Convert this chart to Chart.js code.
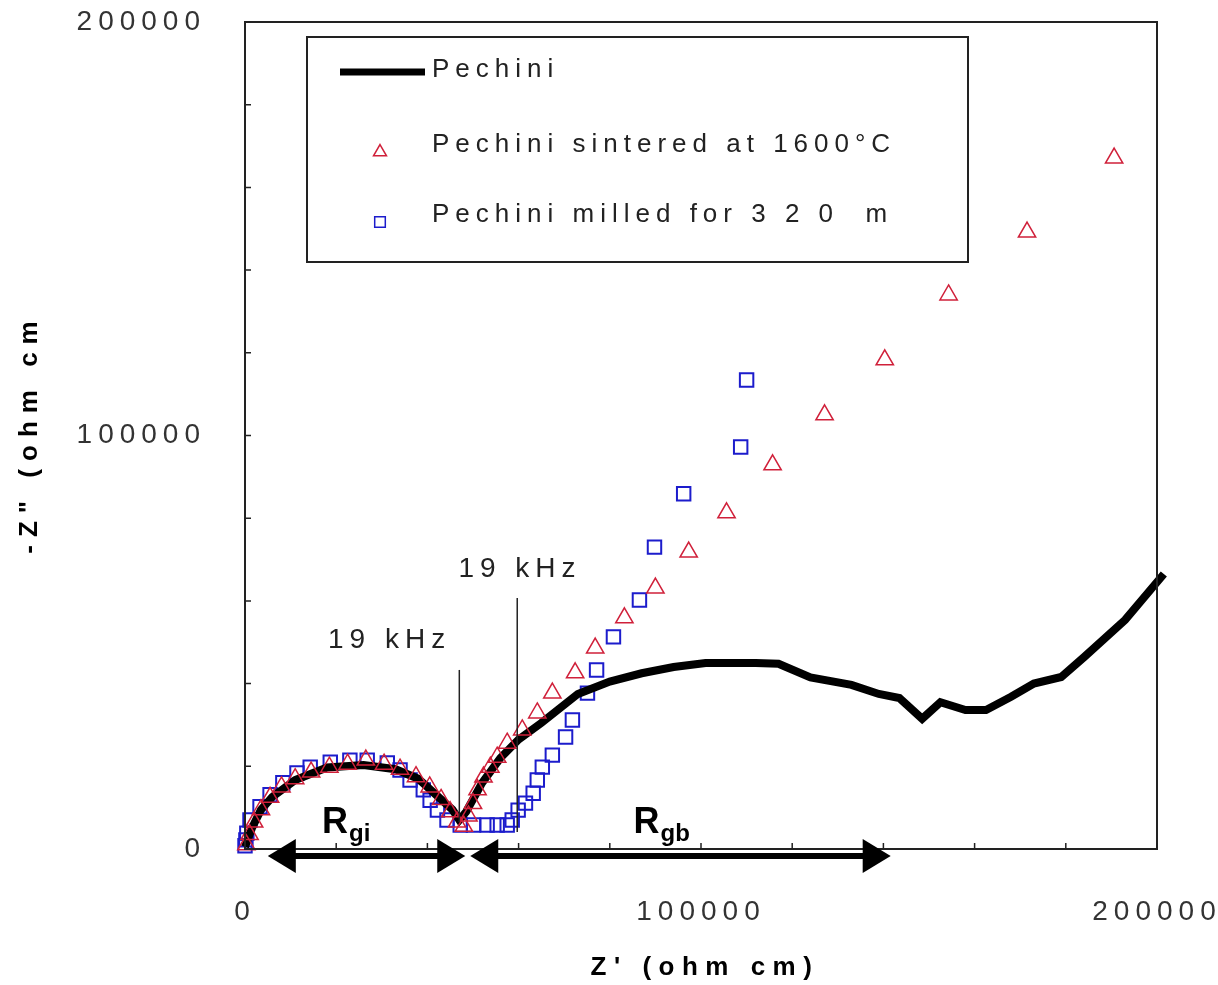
<!DOCTYPE html>
<html>
<head>
<meta charset="utf-8">
<script src="https://cdn.jsdelivr.net/npm/chart.js@4.4.1/dist/chart.umd.min.js"></script>
<style>
  html, body { margin: 0; padding: 0; background: #fff; }
  #wrap { width: 1218px; height: 985px; }
</style>
</head>
<body>
<div id="wrap"><canvas id="nyquist"></canvas></div>
<script>
// Pechini (continuous line)
const pechiniRe = [0, 1500, 3500, 6000, 11000, 18000, 26000, 33000, 38000, 42000, 45500, 47000, 48500, 52000, 56000, 60000, 65000, 73000, 80000, 87000, 94000, 101000, 112000, 117000, 124000, 133000, 139000, 143500, 148500, 152500, 158000, 162500, 168000, 173000, 179000, 184000, 193000, 201500];
const pechiniIm = [500, 5000, 9500, 12600, 16700, 19700, 20300, 19300, 17000, 13000, 9500, 7000, 9000, 16000, 22000, 26500, 30500, 37500, 40500, 42500, 44000, 45000, 45000, 44800, 41500, 39700, 37500, 36500, 31500, 35500, 33600, 33600, 36800, 40000, 41600, 46400, 55400, 66500];

// Pechini sintered at 1600°C (triangles)
const sinteredRe = [300, 1000, 2000, 3500, 5500, 8000, 11000, 14500, 18500, 22500, 26500, 30500, 34000, 37500, 40500, 43000, 45000, 46500, 48000, 49000, 50000, 51000, 52300, 53800, 55300, 57500, 60800, 64100, 67400, 72400, 76800, 83200, 90000, 97300, 105600, 115700, 127100, 140300, 154300, 171500, 190600];
const sinteredIm = [1000, 3500, 6500, 9500, 12500, 15000, 17000, 18600, 19800, 20500, 21500, 20500, 19300, 17500, 15000, 12000, 9000, 6500, 5500, 8000, 11000, 14300, 17400, 19800, 22200, 25600, 28800, 32900, 37700, 42600, 48600, 55900, 63100, 71800, 81300, 92900, 105000, 118300, 134000, 149200, 167100];

// Pechini milled for 320 m (squares)
const milledRe = [0, 200, 400, 1100, 3300, 5500, 8300, 11400, 14300, 18700, 23000, 26800, 31200, 34000, 36200, 39100, 40600, 42200, 44300, 47200, 50100, 53100, 55300, 57500, 58600, 59900, 61500, 63200, 64100, 65200, 67400, 70300, 71800, 75100, 77100, 80800, 86500, 89800, 96200, 108700, 110000];
const milledIm = [800, 2200, 3800, 7000, 10200, 13100, 16000, 18400, 19800, 21000, 21500, 21500, 20800, 19100, 16700, 14300, 11800, 9400, 7000, 5800, 5800, 5800, 5800, 5800, 7000, 9400, 11100, 13500, 16700, 19800, 22700, 27100, 31200, 37700, 43300, 51300, 60200, 73000, 85900, 97200, 113400];

const seriesNames = ["Pechini", "Pechini sintered at 1600\u00b0C", "Pechini milled for 3 2 0  m"];
const axisLabels = [0, 100000, 200000];

// annotations, in data units
const freqNotes = [
  { text: "19 kHz", re: 18200, im: 48600, lineRe: 47000, lineTop: 43300, lineBottom: 6500 },
  { text: "19 kHz", re: 46800, im: 65800, lineRe: 59700, lineTop: 60700, lineBottom: 4100 }
];
const resistArrows = [
  { main: "R", sub: "gi", labelRe: 16900, from: 5000, to: 48300 },
  { main: "R", sub: "gb", labelRe: 85200, from: 49400, to: 141600 }
];

const FONT = "'Liberation Sans', Arial, sans-serif";
const toPoints = (xs, ys) => xs.map((v, i) => ({ x: v, y: ys[i] }));

function drawArrow(ctx, x1, x2, y) {
  const head = 28, half = 17;
  ctx.lineWidth = 6;
  ctx.beginPath(); ctx.moveTo(x1 + head - 2, y); ctx.lineTo(x2 - head + 2, y); ctx.stroke();
  ctx.beginPath(); ctx.moveTo(x1, y); ctx.lineTo(x1 + head, y - half); ctx.lineTo(x1 + head, y + half); ctx.closePath(); ctx.fill();
  ctx.beginPath(); ctx.moveTo(x2, y); ctx.lineTo(x2 - head, y - half); ctx.lineTo(x2 - head, y + half); ctx.closePath(); ctx.fill();
}

const decor = {
  id: "decor",
  beforeDraw(chart) {
    chart.ctx.letterSpacing = "6px";
  },
  afterDraw(chart) {
    const { ctx, chartArea: a, scales: { x, y } } = chart;
    ctx.save();
    ctx.strokeStyle = "#222";
    ctx.fillStyle = "#111";

    // frame
    ctx.lineWidth = 2;
    ctx.strokeRect(a.left, a.top, a.right - a.left, a.bottom - a.top);

    // inward ticks
    ctx.lineWidth = 1.5;
    ctx.beginPath();
    x.ticks.forEach(t => { const px = x.getPixelForValue(t.value); ctx.moveTo(px, a.bottom); ctx.lineTo(px, a.bottom - 6); });
    y.ticks.forEach(t => { const py = y.getPixelForValue(t.value); ctx.moveTo(a.left, py); ctx.lineTo(a.left + 6, py); });
    ctx.stroke();

    // frequency markers
    ctx.textAlign = "left";
    ctx.textBaseline = "alphabetic";
    ctx.font = "28px " + FONT;
    ctx.letterSpacing = "6px";
    ctx.fillStyle = "#222";
    freqNotes.forEach(n => {
      ctx.fillText(n.text, x.getPixelForValue(n.re), y.getPixelForValue(n.im));
      const lx = x.getPixelForValue(n.lineRe);
      ctx.lineWidth = 1.5;
      ctx.beginPath();
      ctx.moveTo(lx, y.getPixelForValue(n.lineTop));
      ctx.lineTo(lx, y.getPixelForValue(n.lineBottom));
      ctx.stroke();
    });

    // resistance arrows and labels
    ctx.fillStyle = "#000";
    ctx.strokeStyle = "#000";
    ctx.letterSpacing = "0px";
    const arrowY = y.getPixelForValue(-1700);
    const labelY = y.getPixelForValue(3900);
    resistArrows.forEach(r => {
      drawArrow(ctx, x.getPixelForValue(r.from), x.getPixelForValue(r.to), arrowY);
      const lx = x.getPixelForValue(r.labelRe);
      ctx.font = "bold 36px " + FONT;
      ctx.fillText(r.main, lx, labelY);
      const w = ctx.measureText(r.main).width;
      ctx.font = "bold 24px " + FONT;
      ctx.fillText(r.sub, lx + w + 1, labelY + 8);
    });

    // axis titles
    ctx.fillStyle = "#000";
    ctx.font = "bold 26px " + FONT;
    ctx.letterSpacing = "7.5px";
    ctx.textAlign = "center";
    ctx.textBaseline = "middle";
    ctx.fillText("Z' (ohm cm)", (a.left + a.right) / 2 + 4, 968);
    ctx.save();
    ctx.translate(30, (a.top + a.bottom) / 2 - 2);
    ctx.rotate(-Math.PI / 2);
    ctx.letterSpacing = "8px";
    ctx.fillText('-Z" (ohm cm', 0, 0);
    ctx.restore();

    // legend box
    const lx = a.left + 62, ly = a.top + 15, lw = 661, lh = 225;
    ctx.fillStyle = "#fff";
    ctx.fillRect(lx, ly, lw, lh);
    ctx.strokeStyle = "#222";
    ctx.lineWidth = 2;
    ctx.strokeRect(lx, ly, lw, lh);
    const rows = [ly + 33, ly + 108, ly + 178];
    chart.data.datasets.forEach((ds, i) => {
      const ry = rows[i];
      if (ds.showLine) {
        ctx.strokeStyle = ds.borderColor;
        ctx.lineWidth = 7;
        ctx.beginPath(); ctx.moveTo(lx + 33, ry + 2); ctx.lineTo(lx + 118, ry + 2); ctx.stroke();
      } else {
        ctx.fillStyle = "rgba(0,0,0,0)";
        ctx.strokeStyle = ds.borderColor;
        ctx.lineWidth = 1.5;
        Chart.helpers.drawPoint(ctx, { pointStyle: ds.pointStyle, radius: 7.5, borderWidth: 1.5, rotation: 0 }, lx + 73, ry + 7);
      }
      ctx.fillStyle = "#222";
      ctx.font = "26px " + FONT;
      ctx.letterSpacing = "6px";
      ctx.textAlign = "left";
      ctx.textBaseline = "middle";
      ctx.fillText(ds.label, lx + 125, ry);
    });
    ctx.restore();
  }
};

const tickFont = { family: FONT, size: 28 };
const labelOnly = v => axisLabels.includes(v) ? String(v) : "";
const noPad = s => { s.paddingLeft = 0; s.paddingRight = 0; s.paddingTop = 0; s.paddingBottom = 0; };

new Chart(document.getElementById("nyquist"), {
  type: "scatter",
  data: {
    datasets: [
      {
        label: seriesNames[0],
        data: toPoints(pechiniRe, pechiniIm),
        showLine: true,
        borderColor: "#000",
        borderWidth: 8,
        pointRadius: 0,
        tension: 0,
        order: 1,
        clip: false
      },
      {
        label: seriesNames[1],
        data: toPoints(sinteredRe, sinteredIm),
        pointStyle: "triangle",
        pointRadius: 10,
        borderColor: "#d0203a",
        backgroundColor: "rgba(0,0,0,0)",
        borderWidth: 1.5,
        order: 0,
        clip: false
      },
      {
        label: seriesNames[2],
        data: toPoints(milledRe, milledIm),
        pointStyle: "rect",
        pointRadius: 9.5,
        borderColor: "#1c1ccc",
        backgroundColor: "rgba(0,0,0,0)",
        borderWidth: 2,
        order: 2,
        clip: false
      }
    ]
  },
  options: {
    responsive: true,
    maintainAspectRatio: false,
    animation: false,
    layout: { padding: { top: 22, right: 61, left: 0, bottom: 0 } },
    plugins: { legend: { display: false }, tooltip: { enabled: false } },
    scales: {
      x: {
        type: "linear",
        min: 0, max: 200000,
        grid: { display: false },
        border: { display: true, color: "#111", width: 2 },
        ticks: { stepSize: 20000, autoSkip: false, maxRotation: 0, padding: 38, color: "#333", font: tickFont, callback: labelOnly },
        afterFit: s => { s.height = 136; noPad(s); }
      },
      y: {
        type: "linear",
        min: 0, max: 200000,
        grid: { display: false },
        border: { display: true, color: "#111", width: 2 },
        ticks: { stepSize: 20000, autoSkip: false, padding: 31, color: "#333", font: tickFont, callback: labelOnly },
        afterFit: s => { s.width = 245; noPad(s); }
      }
    }
  },
  plugins: [decor]
});
</script>
</body>
</html>
